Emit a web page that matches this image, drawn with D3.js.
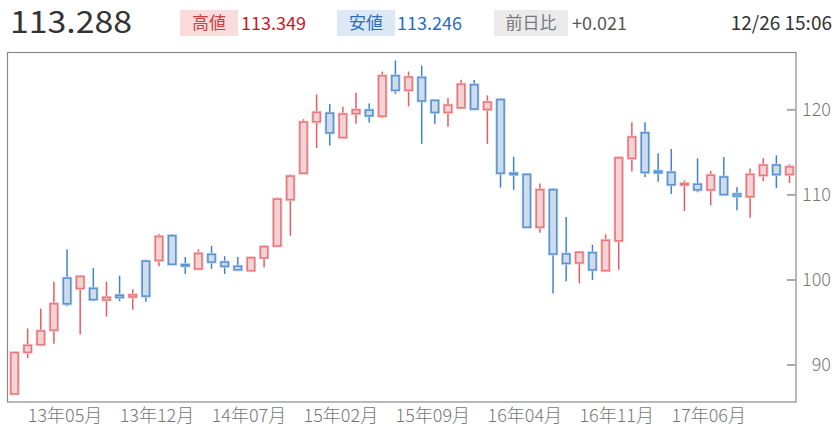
<!DOCTYPE html>
<html><head><meta charset="utf-8">
<script src="https://cdn.jsdelivr.net/npm/d3@7"></script>
<style>
html,body{margin:0;padding:0;background:#fff;}
svg{display:block;}
text{font-family:"Noto Sans CJK JP","Noto Sans",sans-serif;}
</style></head>
<body>
<svg id="chart" width="838" height="439"></svg>
<script>
// ---- data ----
const months = ["2013-01","2013-02","2013-03","2013-04","2013-05","2013-06","2013-07","2013-08","2013-09","2013-10","2013-11","2013-12",
"2014-01","2014-02","2014-03","2014-04","2014-05","2014-06","2014-07","2014-08","2014-09","2014-10","2014-11","2014-12",
"2015-01","2015-02","2015-03","2015-04","2015-05","2015-06","2015-07","2015-08","2015-09","2015-10","2015-11","2015-12",
"2016-01","2016-02","2016-03","2016-04","2016-05","2016-06","2016-07","2016-08","2016-09","2016-10","2016-11","2016-12",
"2017-01","2017-02","2017-03","2017-04","2017-05","2017-06","2017-07","2017-08","2017-09","2017-10","2017-11","2017-12"];
const openVals  = [86.6,91.5,92.4,94.1,100.2,99.0,99.0,97.65,98.2,98.0,102.2,102.3,
105.2,101.8,101.3,103.0,102.1,101.6,101.1,102.6,104.0,109.45,112.55,118.6,
119.6,116.75,119.57,119.96,119.25,124.0,122.3,123.8,121.1,119.7,120.25,122.95,
120.05,121.2,112.55,112.4,106.2,110.6,103.05,102.0,103.2,101.1,104.6,114.3,
117.3,112.8,112.65,111.18,111.25,110.6,112.1,110.1,109.8,112.3,113.5,112.4];
const highVals  = [91.6,94.3,96.6,99.8,103.6,100.6,101.4,99.8,100.5,98.9,102.4,105.4,
105.4,102.7,103.6,104.0,102.8,102.7,102.8,104.1,109.7,112.4,118.9,121.8,
120.7,120.35,122.0,120.75,124.5,125.8,124.5,125.2,121.2,121.4,123.55,123.5,
121.7,121.4,114.5,112.45,111.35,110.8,107.4,103.4,104.15,105.35,114.5,118.55,
118.55,114.9,115.4,111.7,114.3,112.85,114.45,110.9,113.1,114.3,114.65,113.6];
const lowVals   = [86.5,90.8,92.2,92.5,96.9,93.6,97.5,95.7,97.5,96.5,97.45,101.6,
101.8,100.7,101.2,101.3,100.7,101.15,101.0,101.5,103.9,105.2,112.45,115.5,
115.8,116.7,118.35,118.5,119.0,121.85,120.4,116.0,118.35,118.0,120.2,120.05,
116.0,110.85,110.6,106.1,105.55,98.4,99.85,99.6,100.0,101.05,101.2,112.75,
112.1,111.55,110.1,108.1,110.3,108.8,110.0,108.2,107.3,111.6,110.8,111.4];
const closeVals = [91.45,92.3,94.0,97.2,97.2,100.4,97.7,97.95,97.95,98.25,98.1,105.1,
101.85,101.65,103.1,102.1,101.6,101.2,102.6,103.9,109.5,112.2,118.55,119.7,
117.3,119.5,120.0,119.3,124.0,122.3,123.85,121.05,119.7,120.55,123.0,120.1,
120.9,112.55,112.4,106.2,110.6,103.05,101.95,103.25,101.2,104.65,114.35,116.8,
112.65,112.6,111.2,111.33,110.6,112.3,110.05,109.85,112.4,113.5,112.4,113.29];
const xTickMonths = ["2013-05","2013-12","2014-07","2015-02","2015-09","2016-04","2016-11","2017-06"];
const xTickLabels = ["13年05月","13年12月","14年07月","15年02月","15年09月","16年04月","16年11月","17年06月"];
const yTickValues = [90,100,110,120];
// header
const headerPrice = "113.288";
const headerLabels = ["高値","安値","前日比"];
const headerValues = ["113.349","113.246","+0.021"];
const headerTime = "12/26 15:06";

// ---- layout ----
const svg = d3.select("#chart");
const plot = {left:8, right:796, top:52, bottom:402};

const x = d3.scaleBand().domain(months).range([plot.left, plot.right]).paddingInner(0.45).paddingOuter(0.22);
const y = d3.scaleLinear().domain([85.65, 126.8]).range([plot.bottom, plot.top]);

const candles = months.map((m,i)=>({m, o:openVals[i], h:highVals[i], l:lowVals[i], c:closeVals[i]}));

const RED = {stroke:"#e7797d", fill:"#f2d4d6", wick:"#e55c62", glow:"#f6c3c6"};
const BLUE = {stroke:"#5a92d3", fill:"#cfdcea", wick:"#3e83d0", glow:"#bcd2ee"};
const col = d => d.c >= d.o ? RED : BLUE;

// frame
svg.append("rect").attr("x",plot.left-0.5).attr("y",plot.top+0.5)
  .attr("width",plot.right-plot.left+0.5).attr("height",plot.bottom-plot.top-0.5)
  .attr("fill","none").attr("stroke","#8a8a8a").attr("stroke-width",1.2);

// y ticks (marks inside right edge)
const gy = svg.append("g");
gy.selectAll("line").data(yTickValues).join("line")
  .attr("x1",plot.right-9).attr("x2",plot.right)
  .attr("y1",d=>y(d)).attr("y2",d=>y(d))
  .attr("stroke","#aaaaaa").attr("stroke-width",2);
gy.selectAll("text").data(yTickValues).join("text")
  .attr("x",831).attr("y",d=>y(d)).attr("dy","0.36em")
  .attr("text-anchor","end").attr("font-size",18).attr("font-weight",300).attr("fill","#777")
  .text(d=>d);

// x labels
svg.append("g").selectAll("text").data(xTickMonths).join("text")
  .attr("x",d=>x(d)+x.bandwidth()/2-2).attr("y",422)
  .attr("text-anchor","middle").attr("font-size",18).attr("font-weight",300).attr("fill","#777")
  .text((d,i)=>xTickLabels[i]);

// candles
const cx = d => x(d.m)+x.bandwidth()/2;
const gc = svg.append("g");
gc.selectAll("line.wick").data(candles).join("line").attr("class","wick")
  .attr("x1",cx).attr("x2",cx)
  .attr("y1",d=>y(d.h)).attr("y2",d=>y(d.l))
  .attr("stroke",d=>col(d).wick).attr("stroke-width",1.5);
const bodyTop = d => y(Math.max(d.o,d.c));
const bodyH = d => Math.max(1, y(Math.min(d.o,d.c)) - y(Math.max(d.o,d.c)));
gc.selectAll("rect.glow").data(candles).join("rect").attr("class","glow")
  .attr("x",d=>x(d.m)).attr("width",x.bandwidth())
  .attr("y",bodyTop).attr("height",bodyH)
  .attr("fill","none").attr("stroke",d=>col(d).glow).attr("stroke-width",3);
gc.selectAll("rect.body").data(candles).join("rect").attr("class","body")
  .attr("x",d=>x(d.m)).attr("width",x.bandwidth())
  .attr("y",bodyTop).attr("height",bodyH)
  .attr("fill",d=>col(d).fill).attr("stroke",d=>col(d).stroke).attr("stroke-width",1.5);

// header
svg.append("text").attr("x",10).attr("y",33).attr("font-size",31).attr("fill","#333")
  .attr("font-family","'Liberation Sans', sans-serif")
  .attr("textLength",122).attr("lengthAdjust","spacingAndGlyphs")
  .text(headerPrice);

const boxes = [
  {x:180, w:58, bg:"#fbdcdd", lc:"#c9423f", vc:"#d0141e", vx:241},
  {x:337, w:58, bg:"#dce8f6", lc:"#2f6fba", vc:"#1f6ec6", vx:397},
  {x:494, w:74, bg:"#ebebeb", lc:"#777777", vc:"#555555", vx:572}
];
boxes.forEach((b,i)=>{
  svg.append("rect").attr("x",b.x).attr("y",10).attr("width",b.w).attr("height",26).attr("fill",b.bg);
  svg.append("text").attr("x",b.x+b.w/2).attr("y",29).attr("text-anchor","middle")
    .attr("font-size",17).attr("fill",b.lc).text(headerLabels[i]);
  svg.append("text").attr("x",b.vx).attr("y",30).attr("font-size",18)
    .attr("font-family","'Noto Sans', sans-serif").attr("fill",b.vc).text(headerValues[i]);
});
svg.append("text").attr("x",832).attr("y",30).attr("text-anchor","end").attr("font-size",19)
  .attr("font-family","'Noto Sans', sans-serif").attr("fill","#333").text(headerTime);
</script>
</body></html>
